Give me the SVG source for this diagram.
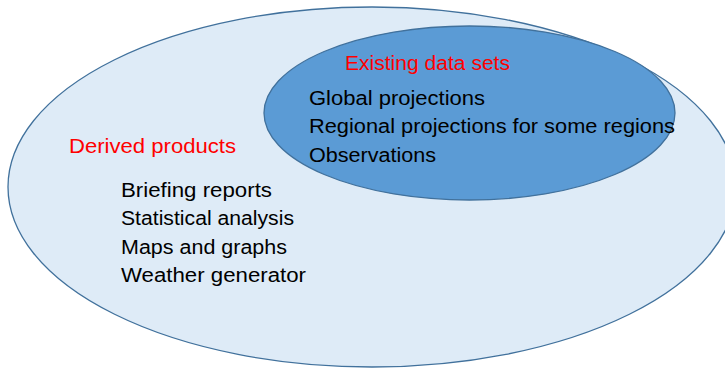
<svg xmlns="http://www.w3.org/2000/svg" width="725" height="369" viewBox="0 0 725 369">
<style>
.t{font-family:"Liberation Sans",Arial,sans-serif;font-size:20px;fill:#000}
.r{fill:#FF0000}
.e{stroke:#41719C;stroke-width:1.3}
</style>
<rect width="725" height="369" fill="#FFFFFF"/>
<g id="derived-products">
<ellipse class="e" cx="372" cy="187" rx="364" ry="180" fill="#DEEBF7"/>
<text class="t r" x="69" y="153" textLength="167" lengthAdjust="spacingAndGlyphs">Derived products</text>
<text class="t" x="121" y="197" textLength="151" lengthAdjust="spacingAndGlyphs">Briefing reports</text>
<text class="t" x="121" y="225" textLength="173" lengthAdjust="spacingAndGlyphs">Statistical analysis</text>
<text class="t" x="121" y="253.5" textLength="166" lengthAdjust="spacingAndGlyphs">Maps and graphs</text>
<text class="t" x="121" y="282" textLength="185" lengthAdjust="spacingAndGlyphs">Weather generator</text>
</g>
<g id="existing-data-sets">
<ellipse class="e" cx="469.5" cy="113" rx="205.5" ry="87" fill="#5B9BD5"/>
<text class="t r" x="345" y="70" textLength="165" lengthAdjust="spacingAndGlyphs">Existing data sets</text>
<text class="t" x="309" y="105" textLength="176" lengthAdjust="spacingAndGlyphs">Global projections</text>
<text class="t" x="309" y="133" textLength="366" lengthAdjust="spacingAndGlyphs">Regional projections for some regions</text>
<text class="t" x="309" y="162" textLength="127" lengthAdjust="spacingAndGlyphs">Observations</text>
</g>
<g id="connectors"/>
</svg>
